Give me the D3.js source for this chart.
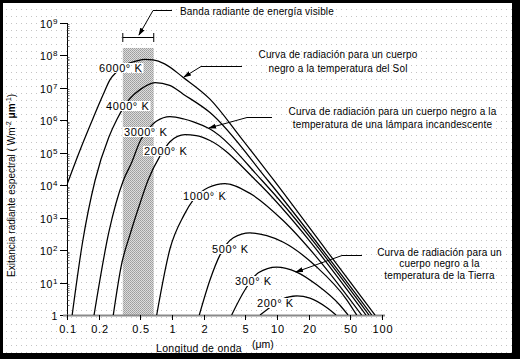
<!DOCTYPE html>
<html><head><meta charset="utf-8">
<script src="https://cdn.jsdelivr.net/npm/d3@7"></script>
<style>
body{margin:0;background:#000;}
svg{display:block;}
text{font-family:"Liberation Sans",Arial,sans-serif;fill:#000;}
</style>
</head><body>
<svg id="chart" width="520" height="359"></svg>
<script>
// ---------- data ----------
const xTickValues = [0.1, 0.2, 0.5, 1, 2, 5, 10, 20, 50, 100];
const xTickLabels = ["0.1", "0.2", "0.5", "1", "2", "5", "10", "20", "50", "100"];
const yTickExponents = [0, 1, 2, 3, 4, 5, 6, 7, 8, 9];
const curveNames = ["6000° K", "4000° K", "3000° K", "2000° K", "1000° K", "500° K", "300° K", "200° K"];
// [wavelength µm, spectral exitance W m-2 µm-1]
const curve6000K = [[0.1,1.05e4],[0.133,1.2e5],[0.178,1.2e6],[0.22,6e6],[0.257,1.8e7],[0.3,3.2e7],[0.37,5.4e7],[0.46,6.8e7],[0.553,7.6e7],[0.66,7.3e7],[0.85,5.5e7],[1.28,2.1e7],[2.3,4.5e6],[4.5,3.0e5],[9.36,1.4e4],[30,92],[85.8,1]];
const curve4000K = [[0.112,1],[0.14,160],[0.185,1.4e4],[0.25,3e5],[0.3,1.1e6],[0.4,4.8e6],[0.5,9e6],[0.69,1.46e7],[0.95,1.2e7],[1.28,6.4e6],[2.3,1.74e6],[8.2,1.4e4],[79.8,1]];
const curve3000K = [[0.181,1],[0.25,3.5e2],[0.344,1.4e4],[0.413,5e4],[0.5,2.4e5],[0.6,5.5e5],[0.715,9.5e5],[0.957,1.3e6],[1.3,1.1e6],[1.6,9e5],[2.3,5.4e5],[7.2,1.4e4],[75.2,1]];
const curve2000K = [[0.276,1],[0.33,35],[0.398,3e2],[0.5,3e3],[0.595,1.5e4],[0.77,8e4],[0.957,2.2e5],[1.33,3.6e5],[1.7,3.4e5],[2.3,2.4e5],[6.3,1.4e4],[70.4,1]];
const curve1000K = [[0.715,1],[0.957,110],[1.3,1.2e3],[1.6,3.6e3],[2.22,8.5e3],[3.2,1.12e4],[5.53,5.6e3],[11.5,800],[23.9,60],[64,1]];
const curve500K = [[1.82,1],[2.3,12],[2.86,70],[3.84,240],[5.53,340],[8,280],[11.5,175],[23.9,30],[46,3],[57.4,1]];
const curve300K = [[3.7,1],[4.96,6],[6.64,20],[9.9,30],[15.4,21],[23.9,8.5],[39.8,2],[47.5,1]];
const curve200K = [[6.9,1],[8.3,1.6],[11,3],[15.4,3.9],[20.6,3.3],[29.7,1.7],[36.5,1]];
const curves = [curve6000K, curve4000K, curve3000K, curve2000K, curve1000K, curve500K, curve300K, curve200K];
const visibleBand = [0.34, 0.67];
const visibleBandTop = 1.7e8;
const bandTitle = "Banda radiante de energía visible";
const sunNote = ["Curva de radiación para un cuerpo", "negro a la temperatura del Sol"];
const lampNote = ["Curva de radiación para un cuerpo negro a la", "temperatura de una lámpara incandescente"];
const earthNote = ["Curva de radiación para un", "cuerpo negro a la", "temperatura de la Tierra"];

// ---------- layout ----------
const W = 520, H = 359;
const svg = d3.select("#chart");
const x = d3.scaleLog().domain([0.1, 100]).range([67, 382]);
const y = d3.scaleLog().domain([1, 1e9]).range([315, 23]);

const defs = svg.append("defs");
const dots = defs.append("pattern").attr("id","dots").attr("patternUnits","userSpaceOnUse")
  .attr("width",5).attr("height",7);
dots.append("rect").attr("width",5).attr("height",7).attr("fill","#fff");
dots.append("rect").attr("x",1).attr("y",2).attr("width",1).attr("height",1).attr("fill","#c4c4c4");
const dith = defs.append("pattern").attr("id","dith").attr("patternUnits","userSpaceOnUse")
  .attr("width",2).attr("height",2);
dith.append("rect").attr("width",2).attr("height",2).attr("fill","#dcdcdc");
dith.append("rect").attr("width",1).attr("height",1).attr("fill","#9c9c9c");
dith.append("rect").attr("x",1).attr("y",1).attr("width",1).attr("height",1).attr("fill","#a8a8a8");
defs.append("clipPath").attr("id","plotclip").append("rect")
  .attr("x",67).attr("y",15).attr("width",330).attr("height",300);
const mk = defs.append("marker").attr("id","arr").attr("viewBox","0 0 8 6")
  .attr("refX",7).attr("refY",3).attr("markerWidth",8).attr("markerHeight",6)
  .attr("markerUnits","userSpaceOnUse").attr("orient","auto");
mk.append("path").attr("d","M0,0.5 L8,3 L0,5.5 z").attr("fill","#000");

// frame
svg.append("rect").attr("width",W).attr("height",H).attr("fill","#000");
svg.append("rect").attr("x",3).attr("y",3).attr("width",509).attr("height",350).attr("fill","url(#dots)");

// visible band
svg.append("rect")
  .attr("x", x(visibleBand[0])).attr("y", y(visibleBandTop))
  .attr("width", x(visibleBand[1]) - x(visibleBand[0]))
  .attr("height", y(1) - y(visibleBandTop))
  .attr("fill","url(#dith)");

// y axis
const gy = svg.append("g");
gy.append("line").attr("x1",67.5).attr("x2",67.5).attr("y1",y(1e9)).attr("y2",y(1)).attr("stroke","#000");
yTickExponents.forEach(e => {
  const yy = Math.round(y(Math.pow(10,e))) + 0.5;
  gy.append("line").attr("x1",60).attr("x2",67.5).attr("y1",yy).attr("y2",yy).attr("stroke","#000");
  if (e < 9) for (let m = 2; m < 10; m++) {
    const ym = Math.round(y(m*Math.pow(10,e))) + 0.5;
    gy.append("line").attr("x1",67.5).attr("x2",69.5).attr("y1",ym).attr("y2",ym).attr("stroke","#555").attr("stroke-width",0.8);
  }
  const t = gy.append("text").attr("x",58).attr("y",yy+4).attr("text-anchor","end")
    .style("font-size","10.5px").style("letter-spacing","0.6px");
  if (e === 0) { t.text("1"); }
  else {
    t.append("tspan").text("10");
    t.append("tspan").attr("dy",-4).style("font-size","8px").text(String(e));
  }
});

// x axis
const gx = svg.append("g");
gx.append("line").attr("x1",63).attr("x2",385).attr("y1",315.5).attr("y2",315.5).attr("stroke","#8a8a8a").attr("stroke-width",2);
xTickValues.forEach((v,i) => {
  const xx = Math.round(x(v)) + 0.5;
  gx.append("line").attr("x1",xx).attr("x2",xx).attr("y1",315).attr("y2",320).attr("stroke","#000");
  gx.append("text").attr("x",xx+0.5).attr("y",333).attr("text-anchor","middle")
    .style("font-size","11px").style("letter-spacing","0.8px").text(xTickLabels[i]);
});
svg.append("text").attr("x",156).attr("y",352).style("font-size","10.5px").style("letter-spacing","0.3px").text("Longitud de onda");
const um = svg.append("text").attr("x",252).attr("y",348).style("font-size","10.5px");
um.append("tspan").text("(");
um.append("tspan").text("μm");
um.append("tspan").text(")");

// y title
const yt = svg.append("text").attr("transform","translate(15,277) rotate(-90)").style("font-size","10px");
yt.append("tspan").text("Exitancia radiante espectral ( Wm");
yt.append("tspan").attr("dy",-4).style("font-size","7px").text("-2");
yt.append("tspan").attr("dy",4).text(" ");
yt.append("tspan").style("font-weight","bold").text("μm");
yt.append("tspan").attr("dy",-4).style("font-size","7px").text("-1");
yt.append("tspan").attr("dy",4).text(")");

// curves
const line = d3.line().x(d => x(d[0])).y(d => y(d[1])).curve(d3.curveMonotoneX);
const gc = svg.append("g").attr("clip-path","url(#plotclip)");
curves.forEach(c => {
  gc.append("path").attr("d", line(c)).attr("fill","none").attr("stroke","#000").attr("stroke-width",1.25);
});

// curve labels (occlude curves)
const labelPos = [[99,72],[106,110],[124,136],[144,155],[183,200],[212,253],[235,285],[257,307]];
curveNames.forEach((n,i) => {
  const g = svg.append("g");
  const bg = g.append("rect").attr("fill","url(#dots)");
  const t = g.append("text").attr("x",labelPos[i][0]).attr("y",labelPos[i][1])
    .style("font-size","11px").style("letter-spacing","0.6px").text(n);
  const b = t.node().getBBox();
  bg.attr("x",b.x-1).attr("y",b.y+1).attr("width",b.width+2).attr("height",b.height-2);
});

// annotations
function note(lines, cx, baselines) {
  lines.forEach((s,i) => svg.append("text").attr("x",cx).attr("y",baselines[i])
    .attr("text-anchor","middle").style("font-size","10px").style("letter-spacing","0.15px").text(s));
}
svg.append("text").attr("x",180).attr("y",15).style("font-size","10px").style("letter-spacing","0.15px").text(bandTitle);
note(sunNote, 338, [57.5, 72]);
note(lampNote, 392.5, [114.5, 127.5]);
note(earthNote, 439.5, [255.5, 267, 278.5]);

function pointer(pts) {
  svg.append("polyline").attr("points", pts.map(p => p.join(",")).join(" "))
    .attr("fill","none").attr("stroke","#000").attr("stroke-width",1).attr("marker-end","url(#arr)");
}
pointer([[172,10.5],[153,10.5],[139,35]]);
pointer([[242,66.5],[201,66.5],[184,77]]);
pointer([[272,117.5],[247,117.5],[209,128]]);
pointer([[362,255.5],[342,255.5],[296,272]]);
// bracket
const bx0 = x(visibleBand[0]), bx1 = x(visibleBand[1]);
svg.append("line").attr("x1",bx0).attr("x2",bx1).attr("y1",37.5).attr("y2",37.5).attr("stroke","#000");
svg.append("line").attr("x1",bx0).attr("x2",bx0).attr("y1",33).attr("y2",42).attr("stroke","#000");
svg.append("line").attr("x1",bx1).attr("x2",bx1).attr("y1",33).attr("y2",42).attr("stroke","#000");
</script>
</body></html>
